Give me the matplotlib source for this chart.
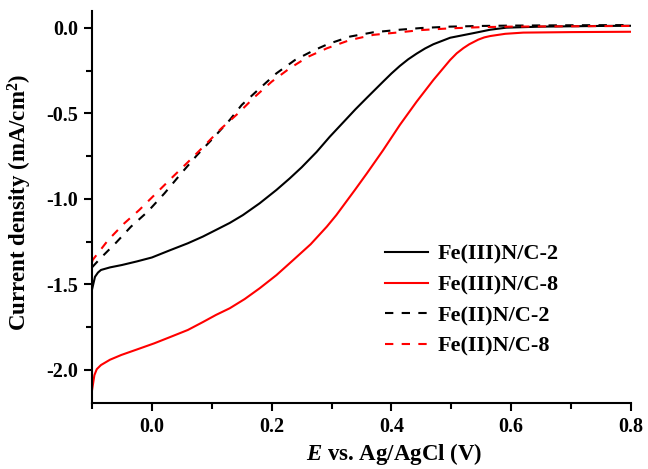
import matplotlib
matplotlib.use("Agg")
import matplotlib.pyplot as plt
from matplotlib.ticker import FixedLocator

plt.rcParams['font.family'] = ['Liberation Serif', 'DejaVu Serif']
plt.rcParams['font.weight'] = 'bold'
plt.rcParams['mathtext.fontset'] = 'custom'
plt.rcParams['mathtext.it'] = 'Liberation Serif:italic:bold'
plt.rcParams['mathtext.rm'] = 'Liberation Serif:bold'

# Fe(III)N/C-2 (black solid)
e_fe3_2 = [-0.100, -0.098, -0.095, -0.090, -0.085, -0.070, -0.050, -0.025, 0.000, 0.030,
           0.060, 0.085, 0.107, 0.130, 0.152, 0.180, 0.208, 0.230, 0.250, 0.275,
           0.297, 0.320, 0.340, 0.359, 0.386, 0.400, 0.414, 0.428, 0.442, 0.456,
           0.470, 0.498, 0.537, 0.565, 0.592, 0.650, 0.700, 0.750, 0.800]
j_fe3_2 = [-1.53, -1.50, -1.455, -1.43, -1.415, -1.40, -1.386, -1.365, -1.342, -1.30,
           -1.259, -1.22, -1.181, -1.14, -1.094, -1.025, -0.947, -0.88, -0.815, -0.725,
           -0.636, -0.550, -0.475, -0.408, -0.314, -0.266, -0.222, -0.183, -0.150, -0.120,
           -0.095, -0.057, -0.030, -0.010, 0.002, 0.008, 0.010, 0.012, 0.013]

# Fe(III)N/C-8 (red solid)
e_fe3_8 = [-0.100, -0.099, -0.096, -0.092, -0.085, -0.070, -0.051, -0.025, 0.004, 0.030,
           0.060, 0.085, 0.107, 0.130, 0.155, 0.180, 0.208, 0.236, 0.265, 0.292,
           0.308, 0.339, 0.359, 0.386, 0.414, 0.442, 0.470, 0.498, 0.509, 0.520,
           0.530, 0.545, 0.555, 0.565, 0.590, 0.620, 0.700, 0.800]
j_fe3_8 = [-2.12, -2.097, -2.03, -1.995, -1.971, -1.94, -1.912, -1.88, -1.844, -1.808,
           -1.766, -1.72, -1.678, -1.639, -1.585, -1.522, -1.445, -1.357, -1.265, -1.162,
           -1.094, -0.947, -0.85, -0.715, -0.567, -0.431, -0.304, -0.187, -0.148, -0.118,
           -0.095, -0.068, -0.055, -0.047, -0.034, -0.027, -0.024, -0.022]

# Fe(II)N/C-2 (black dashed)
e_fe2_2 = [-0.100, -0.086, -0.060, -0.035, -0.007, 0.021, 0.049, 0.075, 0.102, 0.130,
           0.150, 0.180, 0.208, 0.239, 0.269, 0.294, 0.331, 0.370, 0.414, 0.450,
           0.498, 0.550, 0.600, 0.700, 0.800]
j_fe2_2 = [-1.40, -1.347, -1.256, -1.162, -1.074, -0.967, -0.85, -0.745, -0.645, -0.538,
           -0.45, -0.353, -0.265, -0.187, -0.133, -0.094, -0.05, -0.025, -0.010, 0.000,
           0.008, 0.012, 0.014, 0.016, 0.017]

# Fe(II)N/C-8 (red dashed)
e_fe2_8 = [-0.100, -0.099, -0.073, -0.046, -0.021, 0.007, 0.035, 0.060, 0.086, 0.116,
           0.144, 0.172, 0.200, 0.230, 0.261, 0.292, 0.331, 0.370, 0.414, 0.450,
           0.498, 0.550, 0.600, 0.700, 0.800]
j_fe2_8 = [-1.37, -1.357, -1.24, -1.142, -1.064, -0.967, -0.87, -0.785, -0.694, -0.587,
           -0.499, -0.402, -0.314, -0.236, -0.168, -0.119, -0.07, -0.04, -0.025, -0.012,
           -0.002, 0.005, 0.008, 0.010, 0.012]

labels = ['Fe(III)N/C-2', 'Fe(III)N/C-8', 'Fe(II)N/C-2', 'Fe(II)N/C-8']
x_ticks = [0.0, 0.2, 0.4, 0.6, 0.8]
y_ticks = [0.0, -0.5, -1.0, -1.5, -2.0]

fig = plt.figure(figsize=(6.48, 4.69), dpi=100)
ax = fig.add_axes([92/648, 1-403/469, (631-92)/648, (403-11)/469])

lw = 1.5
ax.plot(e_fe3_2, j_fe3_2, color='black', lw=lw, label=labels[0])
ax.plot(e_fe3_8, j_fe3_8, color='red', lw=lw, label=labels[1])
ax.plot(e_fe2_2, j_fe2_2, color='black', lw=lw, dashes=(4, 4), label=labels[2])
ax.plot(e_fe2_8, j_fe2_8, color='red', lw=lw, dashes=(4, 4), label=labels[3])

ax.set_xlim(-0.1, 0.8)
ax.set_ylim(-2.193, 0.0994)
ax.set_xticks(x_ticks)
ax.set_xticklabels([f"{v:.1f}" for v in x_ticks])
ax.set_yticks(y_ticks)
ax.set_yticklabels([f"{v:.1f}" for v in y_ticks])
ax.xaxis.set_minor_locator(FixedLocator([-0.1, 0.1, 0.3, 0.5, 0.7]))
ax.yaxis.set_minor_locator(FixedLocator([-0.25, -0.75, -1.25, -1.75]))

for s in ['top', 'right']:
    ax.spines[s].set_visible(False)
for s in ['left', 'bottom']:
    ax.spines[s].set_linewidth(1.5)

ax.tick_params(which='major', direction='out', length=6, width=1.5, labelsize=14.5, pad=4)
ax.tick_params(which='minor', direction='out', length=4, width=1.5)
for lab in ax.get_xticklabels() + ax.get_yticklabels():
    lab.set_fontweight('bold')

ax.set_xlabel('$E$ vs. Ag/AgCl (V)', fontsize=16.5, fontweight='bold')
ax.xaxis.set_label_coords((394-92)/539, -(441-403)/392)
ax.set_ylabel('Current density (mA/cm$^2$)', fontsize=16.5, fontweight='bold')
ax.yaxis.set_label_coords(-(92-34)/539, (403-202)/392)

leg = ax.legend(loc='upper left', bbox_to_anchor=(385/648, 1-244/469),
                bbox_transform=fig.transFigure, frameon=False,
                handlelength=1.95, handletextpad=0.4, labelspacing=0.46,
                borderpad=0, borderaxespad=0, prop={'weight': 'bold', 'size': 16})

fig.savefig('out.png', dpi=100)
